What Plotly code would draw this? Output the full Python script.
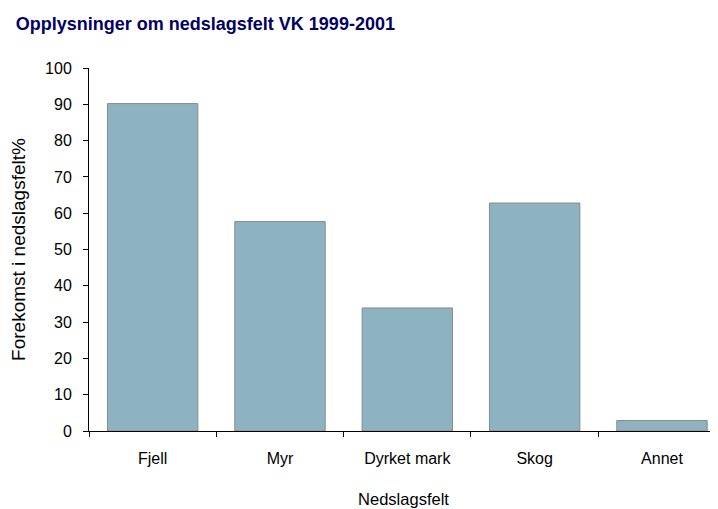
import plotly.graph_objects as go
from typing import List

# Plotly Helper Functions
class PlotlyHelper:
    """Helper class for creating common Plotly visualizations."""

    @staticmethod
    def create_bar_chart(x_data: List[str], y_data: List[float],
                        title: str = "", x_label: str = "", y_label: str = "",
                        color: str = "#8DB3C2") -> go.Figure:
        """Create an Excel-like bar chart with boundary ticks."""
        fig = go.Figure(data=[
            go.Bar(x=x_data, y=y_data, marker_color=color, width=0.71,
                   marker_line=dict(color="#8A8A8A", width=1))
        ])
        fig.update_layout(
            title=dict(text=title, x=0.011, xanchor="left", y=0.968, yanchor="middle",
                       font=dict(size=18, color="#000066", family="Liberation Sans, Arial",
                                 weight="bold")),
            xaxis=dict(title=dict(text=x_label, standoff=27, font=dict(size=16.5)),
                       tickfont=dict(size=16), range=[-0.5, 4.44],
                       tickson="boundaries", ticks="outside", ticklen=5,
                       tickcolor="#000000", showline=True, linecolor="#000000",
                       ticklabelstandoff=13, showgrid=False),
            yaxis=dict(title=dict(text=y_label, standoff=17, font=dict(size=19)),
                       tickfont=dict(size=16), range=[0, 100], dtick=10,
                       ticks="outside", ticklen=5, tickcolor="#000000",
                       showline=True, linecolor="#000000", showgrid=False,
                       zeroline=False, ticklabelstandoff=8),
            font=dict(family="Liberation Sans, Arial", color="#000000"),
            plot_bgcolor="#FFFFFF",
            paper_bgcolor="#FFFFFF",
            margin=dict(l=81, r=0, t=60, b=78),  # page body adds 8px on top/left
            width=710,
            height=501,
            bargap=0.29,
            showlegend=False
        )
        return fig


categories = ["Fjell", "Myr", "Dyrket mark", "Skog", "Annet"]
shares = [90.2, 57.7, 33.9, 62.8, 2.9]

fig = PlotlyHelper.create_bar_chart(categories, shares,
                                    title="Opplysninger om nedslagsfelt VK 1999-2001",
                                    x_label="Nedslagsfelt",
                                    y_label="Forekomst i nedslagsfelt%")
fig.write_html("out.html")
